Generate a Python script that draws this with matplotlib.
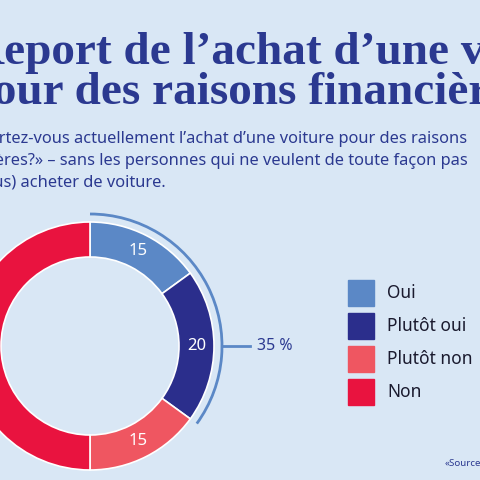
import numpy as np
import matplotlib.pyplot as plt
from matplotlib.patches import Arc, Rectangle

categories = ["Oui", "Plutôt oui", "Plutôt non", "Non"]
values = [15, 20, 15, 50]
colors = ["#5b88c6", "#2b2e8c", "#ef5661", "#e9133f"]
bracket_label = "35 %"

BG = "#d9e7f5"
NAVY = "#2b3990"

fig = plt.figure(figsize=(4.8, 4.8), dpi=100)
fig.patch.set_facecolor(BG)
ax = fig.add_axes([0, 0, 1, 1])
ax.set_facecolor(BG)

cx, cy, r_out, width = 90, 346, 124, 35

# y axis is inverted, so start at -90 and go "counterclock" to get clockwise from top
wedges, texts = ax.pie(
    values, colors=colors, startangle=-90, counterclock=True,
    radius=r_out, center=(cx, cy), frame=True,
    wedgeprops=dict(width=width, edgecolor="white", linewidth=1.2),
)
for v, w in zip(values, wedges):
    mid = (w.theta1 + w.theta2) / 2
    if v < 50:
        rr = r_out - width / 2
        ax.text(cx + rr * np.cos(np.radians(mid)), cy + rr * np.sin(np.radians(mid)),
                str(v), color="white", fontsize=12, ha="center", va="center",
                family="Noto Sans")

# bracket for Oui + Plutôt oui
share = (values[0] + values[1]) / sum(values) * 360
ax.add_patch(Arc((cx, cy), 2 * 132, 2 * 132, theta1=-90, theta2=-90 + share,
                 color="#5b88c6", lw=2))
ax.plot([cx + 133, cx + 160], [cy, cy], color="#5b88c6", lw=2)
ax.text(cx + 167, cy, bracket_label, color=NAVY, fontsize=11.5, va="center",
        family="Noto Sans")

ax.set_xlim(0, 480)
ax.set_ylim(480, 0)
ax.set_aspect("equal")
ax.axis("off")

# legend
for i, (c, lab) in enumerate(zip(colors, categories)):
    y0 = 280 + i * 33
    ax.add_patch(Rectangle((348, y0), 26, 26, color=c))
    ax.text(387, y0 + 13, lab, fontsize=12.5, va="center", color="#1a1a2e",
            family="Noto Sans")

# title (cropped on the left and right, as in the source crop)
ax.text(-30, 64, "Report de l’achat d’une voiture", fontsize=34, fontweight="bold",
        color=NAVY, family="Liberation Serif", va="baseline", clip_on=False)
ax.text(-36, 104, "Pour des raisons financières", fontsize=34, fontweight="bold",
        color=NAVY, family="Liberation Serif", va="baseline", clip_on=False)

sub = ["«Reportez-vous actuellement l’achat d’une voiture pour des raisons",
       "financières?» – sans les personnes qui ne veulent de toute façon pas",
       "(ou plus) acheter de voiture."]
for i, (s, xr) in enumerate(zip(sub, [467, 468, 166])):
    ax.text(xr, 143 + i * 22, s, fontsize=11.8, color=NAVY, ha="right",
            va="baseline", family="Noto Sans")

ax.text(445, 466, "«Source", fontsize=7, color=NAVY, va="baseline", family="Noto Sans")

fig.savefig("out.png", dpi=100, facecolor=BG)
